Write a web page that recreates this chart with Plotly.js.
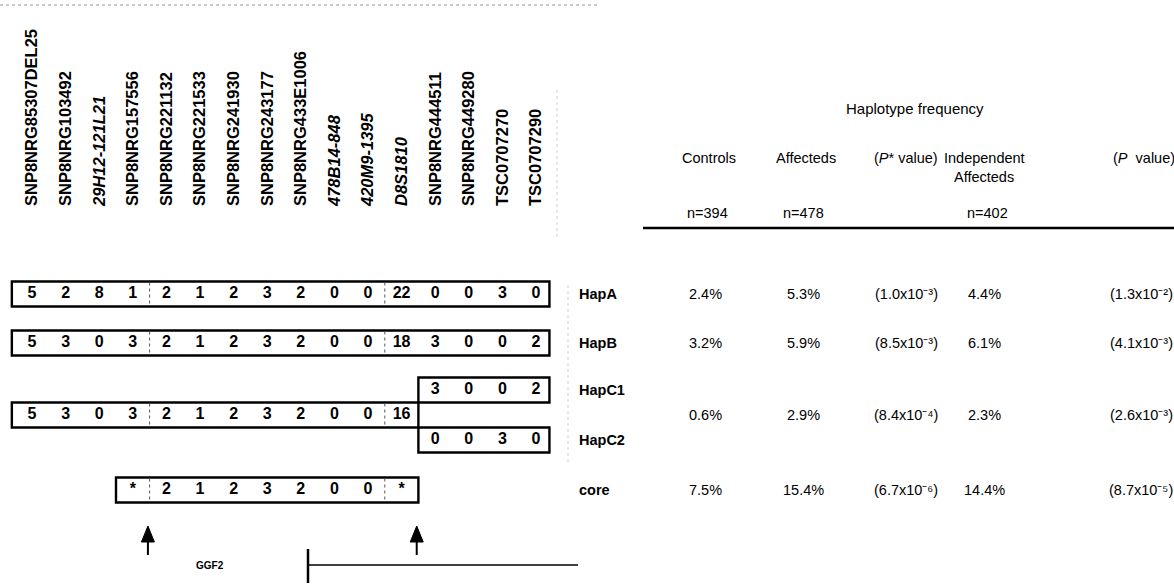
<!DOCTYPE html>
<html>
<head>
<meta charset="utf-8">
<script src="https://cdn.plot.ly/plotly-3.0.1.min.js"></script>
<style>
  html, body { margin: 0; padding: 0; background: #ffffff; }
  #chart { width: 1174px; height: 588px; }
</style>
</head>
<body>
<div id="chart"></div>
<script>
// ---- markers along the NRG1 region (left to right) ----
const markers = ['SNP8NRG85307DEL25', 'SNP8NRG103492', '29H12-121L21', 'SNP8NRG157556',
  'SNP8NRG221132', 'SNP8NRG221533', 'SNP8NRG241930', 'SNP8NRG243177', 'SNP8NRG433E1006',
  '478B14-848', '420M9-1395', 'D8S1810', 'SNP8NRG444511', 'SNP8NRG449280',
  'TSC0707270', 'TSC0707290'];
const microsatellites = ['29H12-121L21', '478B14-848', '420M9-1395', 'D8S1810'];

// ---- alleles per haplotype ----
const hapA = ['5', '2', '8', '1', '2', '1', '2', '3', '2', '0', '0', '22', '0', '0', '3', '0'];
const hapB = ['5', '3', '0', '3', '2', '1', '2', '3', '2', '0', '0', '18', '3', '0', '0', '2'];
const hapCShared = ['5', '3', '0', '3', '2', '1', '2', '3', '2', '0', '0', '16'];
const hapC1Tail = ['3', '0', '0', '2'];
const hapC2Tail = ['0', '0', '3', '0'];
const coreAlleles = ['*', '2', '1', '2', '3', '2', '0', '0', '*'];
const coreStart = 3;          // first marker index of the core haplotype
const tailStart = 12;         // first marker index of the HapC1 / HapC2 tails

// ---- frequency table ----
const rowNames = ['HapA', 'HapB', 'HapC1', 'HapC2', 'core'];
const groupNames = ['Controls', 'Affecteds', 'Independent', 'Affecteds'];
const groupN = [394, 478, 402];
const controlsPct = [2.4, 3.2, 0.6, 7.5];
const affectedsPct = [5.3, 5.9, 2.9, 15.4];
const pStarMant = [1.0, 8.5, 8.4, 6.7];
const pStarExp = [-3, -3, -4, -6];
const independentPct = [4.4, 6.1, 2.3, 14.4];
const pMant = [1.3, 4.1, 2.6, 8.7];
const pExp = [-2, -3, -3, -5];

// ---- page geometry ----
const W = 1174, H = 588;
const X0 = 32, DX = 33.6;               // pixel position of marker 0 and marker spacing
const LABEL_BASE = 206;                 // pixel row where the marker names end
const rowY = { A: 294, B: 343, C1: 390, C: 415, C2: 440, core: 490 };
const tableRowY = [rowY.A, rowY.B, rowY.C, rowY.core];
const labelRowY = [rowY.A, rowY.B, rowY.C1, rowY.C2, rowY.core];
const HALF = 12.5;
const BOX_L = -0.6, BOX_R = 15.4;
const colX = { ctrl: 705, aff: 803, pstar: 906, indep: 984, p: 1141 };
const FONT = 'Liberation Sans, Arial, sans-serif';
const TFS = 14.5;                        // table font size

const px = v => v / W;   // pixel -> paper fraction

const idx = (arr, start) => arr.map((_, i) => i + start);
const pct = v => v.toFixed(1) + '%';
const SUP = { '-': '\u207B', '0': '\u2070', '1': '\u00B9', '2': '\u00B2', '3': '\u00B3', '4': '\u2074',
  '5': '\u2075', '6': '\u2076', '7': '\u2077', '8': '\u2078', '9': '\u2079' };
const sup = s => String(s).split('').map(c => SUP[c]).join('');
const sci = (m, e) => '(' + m.toFixed(1) + 'x10' + sup(e) + ')';

function textTrace(xs, ys, texts, size, weight) {
  return {
    type: 'scatter', mode: 'text', x: xs, y: ys, text: texts,
    textposition: 'middle center', cliponaxis: false, hoverinfo: 'skip', showlegend: false,
    textfont: { family: FONT, size: size, color: '#000', weight: weight || 'bold' }
  };
}

const traces = [
  textTrace(idx(hapA, 0), hapA.map(() => rowY.A), hapA, 16),
  textTrace(idx(hapB, 0), hapB.map(() => rowY.B), hapB, 16),
  textTrace(idx(hapCShared, 0), hapCShared.map(() => rowY.C), hapCShared, 16),
  textTrace(idx(hapC1Tail, tailStart), hapC1Tail.map(() => rowY.C1), hapC1Tail, 16),
  textTrace(idx(hapC2Tail, tailStart), hapC2Tail.map(() => rowY.C2), hapC2Tail, 16),
  textTrace(idx(coreAlleles, coreStart), coreAlleles.map(() => rowY.core), coreAlleles, 16)
];

// ---- boxes, dividers, arrows, gene line ----
const shapes = [];
function box(x0, x1, yc) {
  shapes.push({ type: 'rect', xref: 'x', yref: 'y', x0: x0, x1: x1, y0: yc - HALF, y1: yc + HALF,
    line: { color: '#000', width: 2.4 }, fillcolor: 'rgba(0,0,0,0)' });
}
function divider(x, yc) {
  shapes.push({ type: 'line', xref: 'x', yref: 'y', x0: x, x1: x, y0: yc - HALF + 1, y1: yc + HALF - 1,
    line: { color: '#555', width: 1, dash: 'dot' } });
}
box(BOX_L, BOX_R, rowY.A); divider(3.5, rowY.A); divider(10.5, rowY.A);
box(BOX_L, BOX_R, rowY.B); divider(3.5, rowY.B); divider(10.5, rowY.B);
box(BOX_L, tailStart - 0.5, rowY.C); divider(3.5, rowY.C); divider(10.5, rowY.C);
box(tailStart - 0.5, BOX_R, rowY.C1);
box(tailStart - 0.5, BOX_R, rowY.C2);
box(coreStart - 0.5, tailStart - 0.5, rowY.core); divider(3.5, rowY.core); divider(10.5, rowY.core);

function arrow(x) {
  const hw = 6.5 / DX;
  shapes.push({ type: 'line', xref: 'x', yref: 'y', x0: x, x1: x, y0: 555, y1: 538,
    line: { color: '#000', width: 2 } });
  shapes.push({ type: 'path', xref: 'x', yref: 'y',
    path: `M ${x - hw},542 L ${x + hw},542 L ${x},526 Z`,
    fillcolor: '#000', line: { color: '#000', width: 1 } });
}
arrow(3.45);
arrow(11.45);

// gene start mark and transcript line
const geneX = (308 - X0) / DX, geneEnd = (578 - X0) / DX;
shapes.push({ type: 'line', xref: 'x', yref: 'y', x0: geneX, x1: geneX, y0: 549, y1: 583,
  line: { color: '#000', width: 2.5 } });
shapes.push({ type: 'line', xref: 'x', yref: 'y', x0: geneX, x1: geneEnd, y0: 565, y1: 565,
  line: { color: '#000', width: 1.5 } });

// table rule under the sample sizes
shapes.push({ type: 'line', xref: 'paper', yref: 'y', x0: px(643), x1: 1, y0: 228, y1: 228,
  line: { color: '#000', width: 2.5 } });
// faint dotted scan strips
shapes.push({ type: 'line', xref: 'paper', yref: 'y', x0: 0, x1: px(600), y0: 5, y1: 5,
  line: { color: '#bbb', width: 1.5, dash: 'dot' } });
shapes.push({ type: 'line', xref: 'paper', yref: 'y', x0: px(557), x1: px(557), y0: 90, y1: 240,
  line: { color: '#d0d0d0', width: 1, dash: 'dot' } });
shapes.push({ type: 'line', xref: 'paper', yref: 'y', x0: px(568), x1: px(568), y0: 285, y1: 465,
  line: { color: '#d0d0d0', width: 1, dash: 'dot' } });

// ---- annotations ----
const ann = [];
ann.push({ xref: 'x', yref: 'y', x: (210 - X0) / DX, y: 565, text: 'GGF2', showarrow: false,
  font: { family: FONT, size: 10, color: '#000', weight: 'bold' } });

function tx(x, y, text, size, opts) {
  ann.push(Object.assign({ xref: 'paper', yref: 'y', x: px(x), y: y, text: text, showarrow: false,
    xanchor: 'center', yanchor: 'middle', font: { family: FONT, size: size || TFS, color: '#000' } }, opts || {}));
}
tx(915, 108, 'Haplotype frequency', 15);
tx(colX.ctrl + 4, 158, groupNames[0]);
tx(colX.aff + 3, 158, groupNames[1]);
tx(colX.pstar, 158, '(<i>P</i>* value)');
tx(colX.indep, 158, groupNames[2]);
tx(colX.indep, 177, groupNames[3]);
tx(colX.p + 3, 158, '(<i>P</i>&nbsp; value)');
tx(colX.ctrl + 2, 213, 'n=' + groupN[0]);
tx(colX.aff, 213, 'n=' + groupN[1]);
tx(colX.indep + 3, 213, 'n=' + groupN[2]);

rowNames.forEach((r, i) => {
  ann.push({ xref: 'paper', yref: 'y', x: px(577), y: labelRowY[i], text: r, showarrow: false,
    xanchor: 'left', yanchor: 'middle', font: { family: FONT, size: 14.5, color: '#000', weight: 'bold' } });
});
tableRowY.forEach((y, i) => {
  tx(colX.ctrl, y, pct(controlsPct[i]));
  tx(colX.aff, y, pct(affectedsPct[i]));
  tx(colX.pstar, y, sci(pStarMant[i], pStarExp[i]));
  tx(colX.indep, y, pct(independentPct[i]));
  tx(colX.p, y, sci(pMant[i], pExp[i]));
});

const xRange = [-X0 / DX, (W - X0) / DX];
const layout = {
  width: W, height: H,
  margin: { l: 0, r: 0, t: 0, b: 0, pad: 0 },
  paper_bgcolor: '#fff', plot_bgcolor: '#fff',
  showlegend: false,
  xaxis: { range: xRange, visible: false, fixedrange: true },
  // marker names are the tick labels of a top axis sitting on the label baseline
  xaxis2: {
    overlaying: 'x', side: 'top', anchor: 'free', position: 1 - LABEL_BASE / H,
    range: xRange, fixedrange: true, showgrid: false, zeroline: false, showline: false,
    ticks: '', ticklen: 0, tickangle: -90, tickmode: 'array',
    tickvals: markers.map((_, i) => i),
    ticktext: markers.map(m => microsatellites.includes(m) ? '<i>' + m + '</i>' : m),
    tickfont: { family: FONT, size: 16.5, color: '#000', weight: 'bold' }
  },
  yaxis: { range: [H, 0], visible: false, fixedrange: true },
  shapes: shapes,
  annotations: ann
};

// an empty trace keeps the top axis drawn
traces.push({ type: 'scatter', x: [], y: [], xaxis: 'x2', yaxis: 'y', hoverinfo: 'skip', showlegend: false });

Plotly.newPlot('chart', traces, layout, { staticPlot: true, displayModeBar: false });
</script>
</body>
</html>
